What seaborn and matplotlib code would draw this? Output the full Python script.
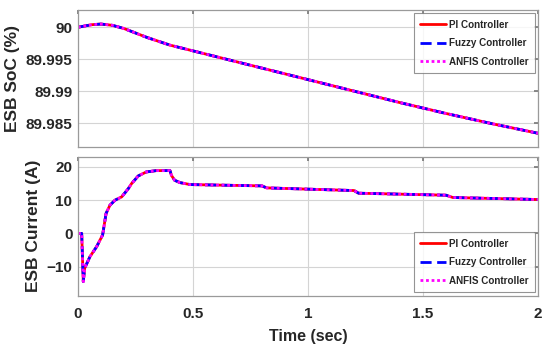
import numpy as np
import pandas as pd
import seaborn as sns
import matplotlib
matplotlib.use("Agg")
import matplotlib.pyplot as plt

# data (the three controllers overlap)
soc_time = [0.0, 0.03, 0.06, 0.1, 0.15, 0.2, 0.25, 0.3, 0.35, 0.4, 0.5, 0.6,
            0.8, 1.0, 1.2, 1.4, 1.6, 1.8, 2.0]
soc_pi = [90.0000, 90.0002, 90.0004, 90.0005, 90.0003, 89.9998, 89.9991,
          89.9984, 89.9978, 89.9972, 89.9963, 89.9954, 89.9936, 89.9918,
          89.9900, 89.9882, 89.9865, 89.9849, 89.9834]
soc_fuzzy = list(soc_pi)
soc_anfis = list(soc_pi)

cur_time = [0.0, 0.016, 0.023, 0.029, 0.052, 0.081, 0.107, 0.122, 0.139,
            0.161, 0.19, 0.219, 0.233, 0.262, 0.297, 0.34, 0.4, 0.406, 0.42,
            0.443, 0.487, 0.8, 0.82, 1.2, 1.22, 1.6, 1.63, 2.0]
cur_pi = [0.0, 0.0, -14.5, -10.5, -7.0, -4.0, -0.5, 6.0, 8.5, 10.0, 11.0,
          13.5, 15.0, 17.3, 18.5, 18.9, 18.9, 17.5, 16.0, 15.3, 14.7, 14.3,
          13.7, 12.9, 12.1, 11.5, 10.8, 10.2]
cur_fuzzy = list(cur_pi)
cur_anfis = list(cur_pi)

controllers = ["PI Controller", "Fuzzy Controller", "ANFIS Controller"]
colors = ["#ff0000", "#0000ff", "#ff00ff"]
styles = ["-", (0, (4, 2)), (0, (1, 1))]

sns.set_theme(style="white")
plt.rcParams["font.family"] = ["Liberation Sans", "DejaVu Sans"]
plt.rcParams["font.weight"] = "bold"
plt.rcParams["axes.labelweight"] = "bold"

fig = plt.figure(figsize=(5.5, 3.47), dpi=100)
ax1 = fig.add_axes([78 / 550, 1 - 147 / 347, 460 / 550, 137 / 347])
ax2 = fig.add_axes([78 / 550, 1 - 295.5 / 347, 460 / 550, 138.5 / 347])

for ys, ax in [((soc_pi, soc_fuzzy, soc_anfis), ax1), ((cur_pi, cur_fuzzy, cur_anfis), ax2)]:
    t = soc_time if ax is ax1 else cur_time
    for name, y, c, ls in zip(controllers, ys, colors, styles):
        sns.lineplot(x=t, y=y, ax=ax, color=c, linestyle=ls, lw=2,
                     label=name, estimator=None)

ax1.set_xlim(0, 2)
ax1.set_ylim(89.98125, 90.0027)
ax1.set_yticks([89.985, 89.99, 89.995, 90])
ax1.set_yticklabels(["89.985", "89.99", "89.995", "90"])
ax1.set_xticks([0, 0.5, 1, 1.5, 2])
ax1.set_xticklabels([])
ax1.set_ylabel("ESB SoC (%)", fontsize=12.5)

ax2.set_xlim(0, 2)
ax2.set_ylim(-18.7, 23)
ax2.set_yticks([-10, 0, 10, 20])
ax2.set_xticks([0, 0.5, 1, 1.5, 2])
ax2.set_xticklabels(["0", "0.5", "1", "1.5", "2"])
ax2.set_ylabel("ESB Current (A)", fontsize=12.5)
ax2.set_xlabel("Time (sec)", fontsize=11.5, labelpad=6)

for ax in (ax1, ax2):
    ax.grid(True, color="#d4d4d4", lw=0.8)
    ax.set_axisbelow(True)
    for s in ax.spines.values():
        s.set_color("#9a9a9a")
        s.set_linewidth(0.9)
    ax.tick_params(direction="in", length=3, color="#7a7a7a", top=True,
                   right=True, labelsize=11, pad=4)
    ax.tick_params(axis="x", pad=8)
    for lab in ax.get_xticklabels() + ax.get_yticklabels():
        lab.set_fontweight("bold")

leg_kw = dict(fontsize=7.1, frameon=True, fancybox=False, edgecolor="#7a7a7a",
              handlelength=2.6, borderpad=0.65, labelspacing=0.85,
              handletextpad=0.25, borderaxespad=0.35)
ax1.legend(loc="upper right", **leg_kw)
ax2.legend(loc="lower right", **leg_kw)
for leg in (ax1.get_legend(), ax2.get_legend()):
    leg.get_frame().set_linewidth(0.8)
    for txt in leg.get_texts():
        txt.set_fontweight("bold")

fig.savefig("out.png", dpi=100)
